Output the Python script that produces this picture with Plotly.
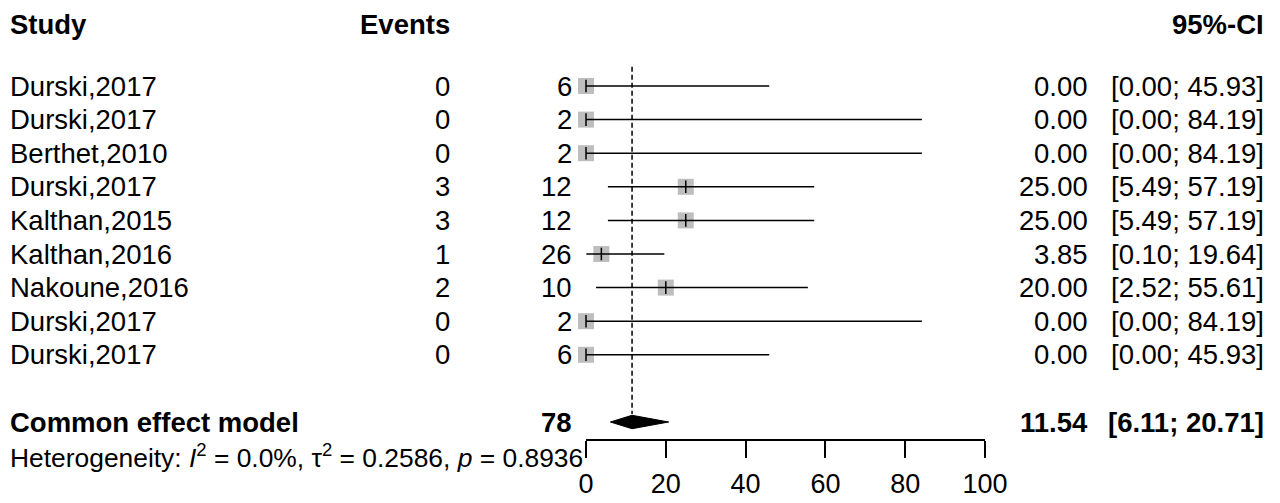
import plotly.graph_objects as go

# forest plot: proportion (%) of events per study, common effect model
studies = ["Durski,2017", "Durski,2017", "Berthet,2010", "Durski,2017", "Kalthan,2015",
           "Kalthan,2016", "Nakoune,2016", "Durski,2017", "Durski,2017"]
events = [0, 0, 0, 3, 3, 1, 2, 0, 0]
totals = [6, 2, 2, 12, 12, 26, 10, 2, 6]
est = [0.00, 0.00, 0.00, 25.00, 25.00, 3.85, 20.00, 0.00, 0.00]
lower = [0.00, 0.00, 0.00, 5.49, 5.49, 0.10, 2.52, 0.00, 0.00]
upper = [45.93, 84.19, 84.19, 57.19, 57.19, 19.64, 55.61, 84.19, 45.93]

pooled_est, pooled_lo, pooled_hi = 11.54, 6.11, 20.71
pooled_total = 78
het_text = ("Heterogeneity: <i>I</i><sup>2</sup> = 0.0%, τ<sup>2</sup> = 0.2586, "
            "<i>p</i> = 0.8936")
x_ticks = [0, 20, 40, 60, 80, 100]

# the page body has an 8px margin, so the figure is placed at (8, 8) in the window;
# all positions below are given in window pixels
OX, OY = 8, 8
FW, FH = 1264, 495
ROW0, PITCH = 86.0, 33.6      # centre of first study row, row spacing
AXIS_PX = 439.4               # y of the x-axis line
FONT = "Liberation Sans, Arial, sans-serif"
FS = 27.5


def px_x(p):
    return (p - OX) / FW


def px_y(p):
    return 1 - (p - OY) / FH


rows = list(range(len(studies)))
pooled_row = len(studies) + 1

fig = go.Figure()

# study squares (drawn under the CI lines)
fig.add_trace(go.Scatter(x=est, y=rows, mode="markers", cliponaxis=False,
                         marker=dict(symbol="square", size=16, color="#BEBEBE",
                                     line=dict(width=0))))
ci_x, ci_y = [], []
for lo, hi, r in zip(lower, upper, rows):
    ci_x += [lo, hi, None]
    ci_y += [r, r, None]
fig.add_trace(go.Scatter(x=ci_x, y=ci_y, mode="lines", cliponaxis=False,
                         line=dict(color="black", width=1.5)))
fig.add_trace(go.Scatter(x=est, y=rows, mode="markers", cliponaxis=False,
                         marker=dict(symbol="line-ns", size=9,
                                     line=dict(color="black", width=1.5))))
# pooled diamond
dh = 0.2
fig.add_trace(go.Scatter(x=[pooled_lo, pooled_est, pooled_hi, pooled_est, pooled_lo],
                         y=[pooled_row, pooled_row - dh, pooled_row, pooled_row + dh, pooled_row],
                         mode="lines", fill="toself", fillcolor="black",
                         line=dict(color="black", width=1), cliponaxis=False))
fig.add_shape(type="line", xref="x", yref="y", x0=pooled_est, x1=pooled_est,
              y0=-0.57, y1=pooled_row - 0.24,
              line=dict(color="black", width=1.5, dash="5px,3px"))

ann = []


def txt(s, xpx, row, anchor, bold=False, yref="y", size=FS, yanchor="middle"):
    ann.append(dict(text=f"<b>{s}</b>" if bold else s, x=px_x(xpx), xref="paper",
                    y=row, yref=yref, xanchor=anchor, yanchor=yanchor, borderpad=0,
                    showarrow=False, font=dict(family=FONT, size=size, color="black")))


# header, hung from the top edge of the figure
txt("Study", 9, 1, "left", bold=True, yref="paper", yanchor="top")
txt("Events", 451, 1, "right", bold=True, yref="paper", yanchor="top")
txt("95%-CI", 1265, 1, "right", bold=True, yref="paper", yanchor="top")

for r, s, e, n, m, lo, hi in zip(rows, studies, events, totals, est, lower, upper):
    txt(s, 9, r, "left")
    txt(str(e), 451, r, "right")
    txt(str(n), 573, r, "right")
    txt(f"{m:.2f}", 1089, r, "right")
    txt(f"[{lo:.2f}; {hi:.2f}]", 1265, r, "right")

txt("Common effect model", 9, pooled_row, "left", bold=True)
txt(str(pooled_total), 573, pooled_row, "right", bold=True)
txt(f"{pooled_est:.2f}", 1089, pooled_row, "right", bold=True)
txt(f"[{pooled_lo:.2f}; {pooled_hi:.2f}]", 1265, pooled_row, "right", bold=True)
txt(het_text, 9, px_y(ROW0 + PITCH * (pooled_row + 1)), "left", yref="paper", size=26.4)

fig.update_layout(
    template="none",
    width=FW, height=FH, margin=dict(l=0, r=0, t=0, b=0, pad=0, autoexpand=False),
    paper_bgcolor="white", plot_bgcolor="white", showlegend=False,
    annotations=ann,
    xaxis=dict(domain=[px_x(586), px_x(985)], range=[0, 100], tickvals=x_ticks,
               automargin=False,
               showline=True, linecolor="black", linewidth=1.5,
               ticks="outside", ticklen=17, tickwidth=1.5, tickcolor="black",
               ticklabelstandoff=2,
               tickfont=dict(family=FONT, size=27, color="black"),
               showgrid=False, zeroline=False, fixedrange=True),
    yaxis=dict(domain=[px_y(AXIS_PX), 1], automargin=False,
               range=[(AXIS_PX - ROW0) / PITCH, (OY - ROW0) / PITCH],
               visible=False, showgrid=False, zeroline=False, fixedrange=True),
)

fig.write_html("out.html")
